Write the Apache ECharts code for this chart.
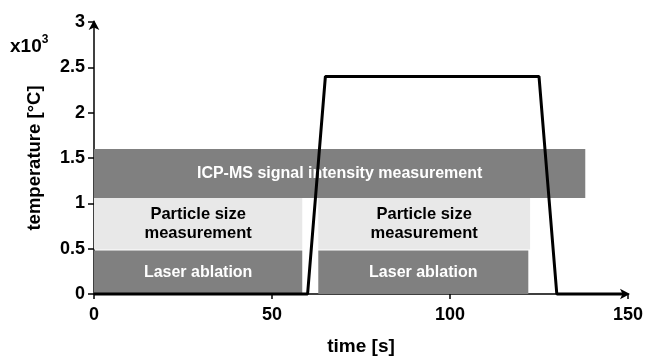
<!DOCTYPE html>
<html><head><meta charset="utf-8">
<script src="https://cdn.jsdelivr.net/npm/echarts@6/dist/echarts.min.js"></script>
<style>html,body{margin:0;padding:0;background:#fff}#c{width:650px;height:360px}</style>
</head><body><div id="c"></div>
<script>
// temperature profile (time [s], temperature x10^3 °C)
const tempTime = [0, 60, 65, 125, 130, 149];
const tempValue = [0, 0, 2.4, 2.4, 0, 0];
// phase bands: [start time, end time, bottom, top]
const bandStart = [0, 0, 63, 0, 63];
const bandEnd = [138, 58.5, 122.5, 58.5, 122];
const bandBottom = [1.06, 0.49, 0.49, 0, 0];
const bandTop = [1.6, 1.06, 1.06, 0.48, 0.48];
const bandLabel = ['ICP-MS signal intensity measurement', 'Particle size\nmeasurement', 'Particle size\nmeasurement', 'Laser ablation', 'Laser ablation'];
const bandKind = ['dark', 'light', 'light', 'dark', 'dark'];
const xTicks = [0, 50, 100, 150];
const yTicks = [0, 0.5, 1, 1.5, 2, 2.5, 3];

const FONT = '"Liberation Sans", Arial, sans-serif';
const fill = {dark: '#808080', light: '#e8e8e8'};
const textFill = {dark: '#ffffff', light: '#000000'};

const bandData = bandStart.map((s, i) => [s, bandEnd[i], bandBottom[i], bandTop[i], i]);

const chart = echarts.init(document.getElementById('c'), null, {renderer: 'canvas'});
chart.setOption({
  animation: false,
  grid: {left: 94, right: 22, top: 22, bottom: 66, containLabel: false, outerBoundsMode: 'none'},
  xAxis: {
    type: 'value', min: xTicks[0], max: xTicks[xTicks.length - 1], interval: 50,
    name: 'time [s]', nameLocation: 'middle', nameGap: 43,
    nameTextStyle: {fontFamily: FONT, fontWeight: 'bold', fontSize: 19, color: '#000'},
    axisLine: {show: true, lineStyle: {color: '#000', width: 1.5}, symbol: ['none', 'arrow'], symbolSize: [8, 10], symbolOffset: [0, 2]},
    axisTick: {show: true, length: 5, lineStyle: {color: '#000', width: 1.5}},
    axisLabel: {fontFamily: FONT, fontWeight: 'bold', fontSize: 18, color: '#000', margin: 12},
    splitLine: {show: false}
  },
  yAxis: {
    type: 'value', min: yTicks[0], max: yTicks[yTicks.length - 1], interval: 0.5,
    name: 'temperature [°C]', nameLocation: 'middle', nameGap: 50,
    nameTextStyle: {fontFamily: FONT, fontWeight: 'bold', fontSize: 18.5, color: '#000'},
    axisLine: {show: true, lineStyle: {color: '#000', width: 1.5}, symbol: ['none', 'arrow'], symbolSize: [8, 10], symbolOffset: [0, 2]},
    axisTick: {show: true, length: 6, lineStyle: {color: '#000', width: 1.5}},
    axisLabel: {fontFamily: FONT, fontWeight: 'bold', fontSize: 18, color: '#000', margin: 9},
    splitLine: {show: false}
  },
  graphic: [{
    type: 'text', left: 10, top: 34,
    style: {
      text: '{b|x10}{s|3}',
      rich: {
        b: {fontFamily: FONT, fontWeight: 'bold', fontSize: 19, fill: '#000', verticalAlign: 'bottom'},
        s: {fontFamily: FONT, fontWeight: 'bold', fontSize: 12, fill: '#000', verticalAlign: 'top', padding: [0, 0, 10, 0]}
      }
    }
  }],
  series: [{
    type: 'custom',
    z: 1,
    data: bandData,
    renderItem: function (params, api) {
      const i = api.value(4);
      const p0 = api.coord([api.value(0), api.value(3)]);
      const p1 = api.coord([api.value(1), api.value(2)]);
      const kind = bandKind[i];
      return {
        type: 'rect',
        shape: {x: p0[0], y: p0[1], width: p1[0] - p0[0], height: p1[1] - p0[1]},
        style: {fill: fill[kind]},
        textContent: {
          style: {
            text: bandLabel[i], fill: textFill[kind], fontFamily: FONT, fontWeight: 'bold',
            fontSize: i === 0 ? 16 : (kind === 'light' ? 16.5 : 16), align: 'center', verticalAlign: 'middle', lineHeight: 19
          }
        },
        textConfig: {position: 'inside'}
      };
    }
  }, {
    type: 'line',
    z: 3,
    data: tempTime.map((t, i) => [t, tempValue[i]]),
    showSymbol: false, symbol: 'none',
    lineStyle: {color: '#000', width: 3},
    clip: false
  }]
});
</script></body></html>
